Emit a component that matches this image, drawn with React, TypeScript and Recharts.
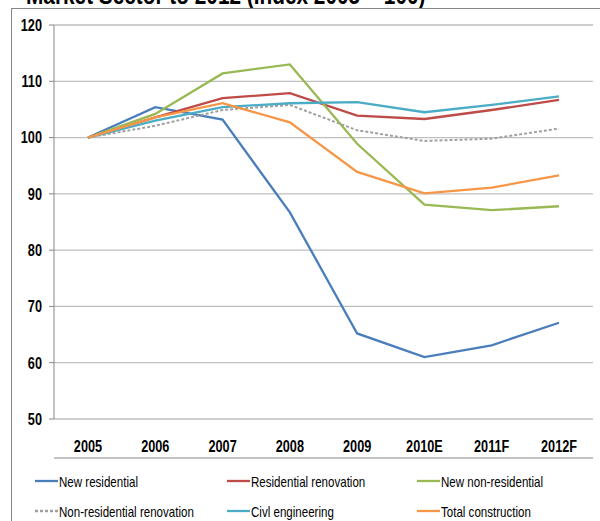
import { LineChart, Line, XAxis, YAxis, CartesianGrid } from 'recharts';

const years = ['2005', '2006', '2007', '2008', '2009', '2010E', '2011F', '2012F'];
const newResidential = [100, 105.4, 103.2, 86.7, 65.2, 61.0, 63.1, 67.1];
const residentialRenovation = [100, 103.6, 107.0, 107.9, 103.9, 103.3, 104.9, 106.7];
const newNonResidential = [100, 104.2, 111.4, 113.0, 98.9, 88.1, 87.1, 87.8];
const nonResidentialRenovation = [100, 102.1, 104.9, 105.8, 101.3, 99.4, 99.8, 101.6];
const civilEngineering = [100, 103.0, 105.4, 106.1, 106.3, 104.5, 105.8, 107.3];
const totalConstruction = [100, 103.6, 106.1, 102.7, 93.9, 90.1, 91.1, 93.3];
const yTicks = [50, 60, 70, 80, 90, 100, 110, 120];
const edgeTicks = [0, 1, 2, 3, 4, 5, 6, 7, 8];

// Liberation Sans squeezed horizontally stands in for the narrow Office font
const FONT = "'Liberation Sans', Arial, sans-serif";
const SQUEEZE = 0.77;
const AXIS = '#868686';

const series = [
  { key: 'nr', name: 'New residential', values: newResidential, color: '#4A7EBB' },
  { key: 'rr', name: 'Residential renovation', values: residentialRenovation, color: '#BE4B48' },
  { key: 'nnr', name: 'New non-residential', values: newNonResidential, color: '#98B954' },
  { key: 'nrr', name: 'Non-residential renovation', values: nonResidentialRenovation, color: '#A0A0A0', dash: '3 2' },
  { key: 'ce', name: 'Civl engineering', values: civilEngineering, color: '#4BACC6' },
  { key: 'tc', name: 'Total construction', values: totalConstruction, color: '#F79646' },
];

const data = years.map((year, i) => {
  const row: Record<string, string | number> = { year };
  series.forEach((s) => { row[s.key] = s.values[i]; });
  return row;
});

const legendCols = [35, 227, 417];
const legendRows = [481, 511];

const NarrowTick = (props: any) => {
  const { x, y, payload, textAnchor, dy } = props;
  return (
    <g transform={`translate(${x},${y})`}>
      <text
        transform={`scale(${SQUEEZE},1)`}
        textAnchor={textAnchor}
        dy={dy}
        fill="#000"
        fontSize={16.5}
        fontWeight="bold"
        fontFamily={FONT}
      >
        {payload.value}
      </text>
    </g>
  );
};

export default function App() {
  return (
    <div style={{ position: 'absolute', left: 0, top: 0, width: 600, height: 521, overflow: 'hidden', background: '#fff', fontFamily: FONT }}>
      <div
        style={{
          position: 'absolute', left: 26, top: -20, fontSize: 26, lineHeight: '30px', fontWeight: 'bold',
          whiteSpace: 'nowrap', transform: 'scaleX(0.8)', transformOrigin: 'left center',
        }}
      >
        Market Sector to 2012 (Index 2005 = 100)
      </div>
      <div style={{ position: 'absolute', left: 11, top: 8, width: 620, height: 540, border: `1px solid ${AXIS}` }} />
      <div style={{ position: 'absolute', left: 0, top: 0 }}>
        <LineChart width={600} height={521} data={data} margin={{ top: 25, right: 7, bottom: 62, left: 0 }}>
          <CartesianGrid vertical={false} stroke="#BFBFBF" strokeWidth={1.3} />
          <YAxis
            domain={[50, 120]}
            ticks={yTicks}
            width={54}
            tickSize={5}
            tickMargin={7}
            axisLine={{ stroke: AXIS }}
            tickLine={{ stroke: AXIS }}
            tick={(p: any) => <NarrowTick {...p} textAnchor="end" dy="0.355em" />}
          />
          <XAxis
            xAxisId="edge"
            type="number"
            domain={[0, 8]}
            ticks={edgeTicks}
            height={1}
            tick={false}
            tickSize={5}
            axisLine={{ stroke: AXIS }}
            tickLine={{ stroke: AXIS }}
          />
          <XAxis
            dataKey="year"
            height={39}
            axisLine={false}
            tickLine={false}
            tickSize={0}
            tickMargin={21}
            interval={0}
            padding={{ left: 34, right: 34 }}
            tick={(p: any) => <NarrowTick {...p} textAnchor="middle" dy="0.71em" />}
          />
          {series.map((s) => (
            <Line
              key={s.key}
              dataKey={s.key}
              name={s.name}
              type="linear"
              stroke={s.color}
              strokeWidth={s.dash ? 2 : 2.3}
              strokeDasharray={s.dash}
              dot={false}
              activeDot={false}
              isAnimationActive={false}
            />
          ))}
        </LineChart>
      </div>
      {series.map((s, i) => {
        const left = legendCols[i % 3];
        const top = legendRows[Math.floor(i / 3)];
        return (
          <div key={s.key} style={{ position: 'absolute', left, top: top - 10, height: 20, display: 'flex', alignItems: 'center', fontSize: 15, whiteSpace: 'nowrap' }}>
            <svg width={23} height={6} style={{ marginRight: 1 }}>
              <line x1={0} y1={3} x2={23} y2={3} stroke={s.color} strokeWidth={2.3} strokeDasharray={s.dash} />
            </svg>
            <span style={{ display: 'inline-block', transform: `scaleX(${SQUEEZE})`, transformOrigin: 'left center' }}>{s.name}</span>
          </div>
        );
      })}
    </div>
  );
}
